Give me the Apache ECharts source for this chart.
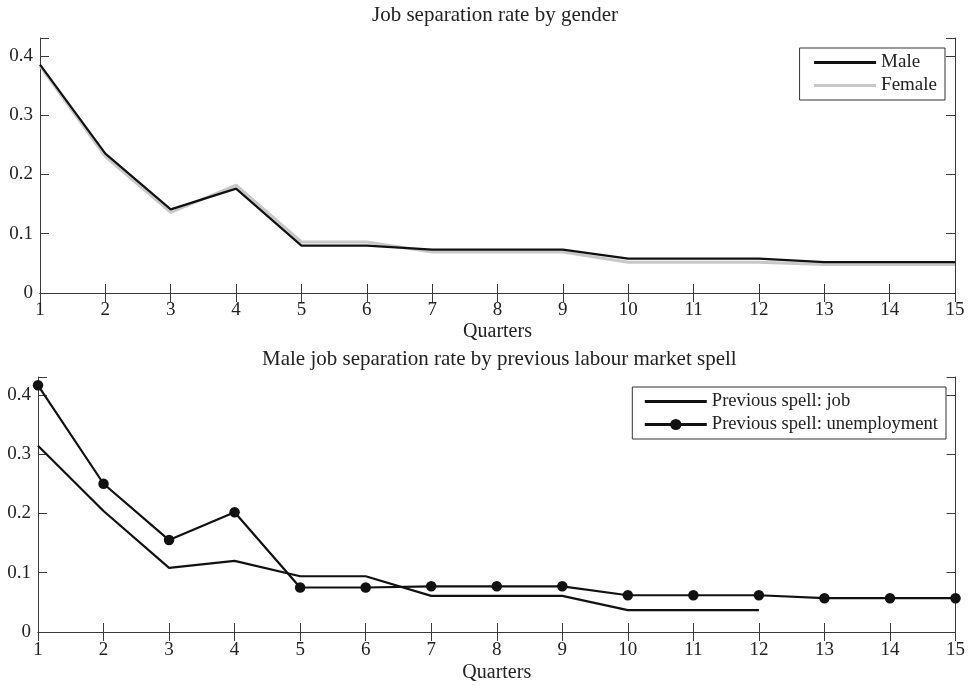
<!DOCTYPE html>
<html><head><meta charset="utf-8">
<script src="https://cdn.jsdelivr.net/npm/echarts@6/dist/echarts.min.js"></script>
<style>html,body{margin:0;padding:0;background:#fff}#c{width:968px;height:686px}</style>
</head><body><div id="c"></div>
<script>
const quarters = [1,2,3,4,5,6,7,8,9,10,11,12,13,14,15];
const male = [0.385,0.235,0.141,0.176,0.080,0.080,0.073,0.073,0.073,0.058,0.058,0.058,0.052,0.052,0.052];
const female = [0.383,0.230,0.136,0.182,0.086,0.086,0.069,0.069,0.069,0.052,0.052,0.052,0.048,0.048,0.048];
const prevJob = [0.314,0.204,0.108,0.120,0.094,0.094,0.061,0.061,0.061,0.037,0.037,0.037];
const prevUnemp = [0.416,0.250,0.155,0.202,0.075,0.075,0.077,0.077,0.077,0.062,0.062,0.062,0.057,0.057,0.057];
const yTicks = [0,0.1,0.2,0.3,0.4];
const titles = ['Job separation rate by gender','Male job separation rate by previous labour market spell'];

const FONT = 'Liberation Serif';
const TXT = '#222';
const AX = '#3a3a3a';
const pairs = arr => arr.map((v,i)=>[quarters[i], v]);

function yFmt(v){
  const r = Math.round(v*10)/10;
  if (Math.abs(v - r) > 1e-6) return '';
  return r === 0 ? '0' : String(r);
}

const grids = [
  {left:40, right:13, top:38, height:255},
  {left:38, right:11, top:377, height:255}
];

const xAxes = [], yAxes = [];
[0,1].forEach(g=>{
  xAxes.push({type:'value', gridIndex:g, min:1, max:15, interval:1, position:'bottom',
    name:'Quarters', nameLocation:'middle', nameGap: g===0?29:31,
    nameTextStyle:{fontFamily:FONT, fontSize:20, color:TXT},
    axisLine:{show:true, lineStyle:{color:AX, width:1}},
    axisTick:{show:true, inside:true, length:9, lineStyle:{color:AX}},
    axisLabel:{fontFamily:FONT, fontSize:19, color:TXT, margin:g===0?8:9},
    splitLine:{show:false}});
  xAxes.push({type:'value', gridIndex:g, min:1, max:15, interval:1, position:'top',
    axisLine:{show:true, lineStyle:{color:AX, width:1}},
    axisTick:{show:true, inside:true, length:9, lineStyle:{color:AX}},
    axisLabel:{show:false}, splitLine:{show:false}});
  yAxes.push({type:'value', gridIndex:g, min:0, max:0.43, interval:0.1, position:'left',
    axisLine:{show:true, lineStyle:{color:AX, width:1}},
    axisTick:{show:true, inside:true, length:9, lineStyle:{color:AX}},
    axisLabel:{fontFamily:FONT, fontSize:19, color:TXT, margin:7, formatter:yFmt},
    splitLine:{show:false}});
  yAxes.push({type:'value', gridIndex:g, min:0, max:0.43, interval:0.1, position:'right',
    axisLine:{show:true, lineStyle:{color:AX, width:1}},
    axisTick:{show:true, inside:true, length:9, lineStyle:{color:AX}},
    axisLabel:{show:false}, splitLine:{show:false}});
});

const hideSym = {opacity:0, color:'transparent', borderWidth:0};

const chart = echarts.init(document.getElementById('c'), null, {renderer:'canvas'});
chart.setOption({
  backgroundColor:'#fff',
  animation:false,
  title:[
    {text:titles[0], left:367, top:0, textStyle:{fontFamily:FONT, fontSize:21, fontWeight:'normal', color:TXT}},
    {text:titles[1], left:257, top:344, textStyle:{fontFamily:FONT, fontSize:21, fontWeight:'normal', color:TXT}}
  ],
  legend:[
    {data:[
       {name:'Male', itemStyle:hideSym, lineStyle:{width:3, color:'#111'}},
       {name:'Female', itemStyle:hideSym, lineStyle:{width:3, color:'#c8c8c8'}}
     ], orient:'vertical', right:23, top:48,
     borderColor:'#333', borderWidth:1, borderRadius:0, padding:[5,8,5,13],
     itemWidth:62, itemHeight:12, itemGap:4,
     textStyle:{fontFamily:FONT, fontSize:19, color:TXT}},
    {data:[
       {name:'Previous spell: job', itemStyle:hideSym, lineStyle:{width:3, color:'#111'}},
       {name:'Previous spell: unemployment', lineStyle:{width:3, color:'#111'}}
     ], orient:'vertical', right:22, top:387,
     borderColor:'#333', borderWidth:1, borderRadius:0, padding:[5,8,5,11],
     itemWidth:62, itemHeight:14, itemGap:4,
     textStyle:{fontFamily:FONT, fontSize:18.6, color:TXT}}
  ],
  grid:grids,
  xAxis:xAxes,
  yAxis:yAxes,
  series:[
    {name:'Female', type:'line', xAxisIndex:0, yAxisIndex:0, data:pairs(female), symbol:'none',
     lineStyle:{color:'#c8c8c8', width:3}, itemStyle:{color:'#c8c8c8'}, z:2},
    {name:'Male', type:'line', xAxisIndex:0, yAxisIndex:0, data:pairs(male), symbol:'none',
     lineStyle:{color:'#111', width:2.2}, itemStyle:{color:'#111'}, z:3},
    {name:'Previous spell: job', type:'line', xAxisIndex:2, yAxisIndex:2, data:pairs(prevJob), symbol:'none',
     lineStyle:{color:'#111', width:2.2}, itemStyle:{color:'#111'}},
    {name:'Previous spell: unemployment', type:'line', xAxisIndex:2, yAxisIndex:2, data:pairs(prevUnemp),
     symbol:'circle', symbolSize:10.5, showSymbol:true,
     lineStyle:{color:'#111', width:2.2}, itemStyle:{color:'#111'}}
  ]
});
</script></body></html>
